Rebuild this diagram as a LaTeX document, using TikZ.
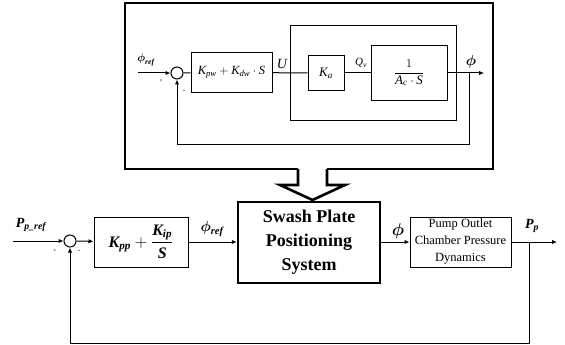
\documentclass[tikz,border=0pt]{standalone}
\usepackage{amsmath}
\usepackage{fontspec}
\setmainfont{Liberation Serif}
\usetikzlibrary{arrows.meta}
\newcommand{\ti}[1]{\text{\itshape #1}}
\newcommand{\tb}[1]{\text{\bfseries\itshape #1}}
\newcommand{\bphi}{\boldsymbol{\phi}}
\begin{document}
\begin{tikzpicture}[x=1pt,y=-1pt,
  blk/.style={draw, line width=1pt, inner sep=0pt, align=center},
  bigblk/.style={draw, line width=2.4pt, inner sep=0pt, align=center},
  sumj/.style={draw, circle, line width=1pt, minimum size=12pt, inner sep=0pt},
  sig/.style={line width=1pt},
  arr/.style={sig, -{Latex[length=5pt,width=4.5pt]}},
  thickln/.style={line width=2.6pt, line join=miter},
  lbl/.style={inner sep=0pt}
]
\useasboundingbox (0,0) rectangle (565,345);

% ---------- top (swash plate detail) ----------
\draw[thickln] (298,169) -- (125,169) -- (125,3) -- (493,3) -- (493,169) -- (327,169);
\node[blk, minimum width=166pt, minimum height=94pt] (ibox) at (373,73) {};

\coordinate (tin) at (138,73);
\node[sumj] (s1) at (177,73) {};
\node[blk, minimum width=81pt, minimum height=39pt, font=\fontsize{12.5}{14}\selectfont] (b1) at (231.5,72.5)
  {$\ti{K}_{\ti{pw}} + \ti{K}_{\ti{dw}}\cdot \ti{S}$};
\node[blk, minimum width=36pt, minimum height=34pt, font=\fontsize{13}{15}\selectfont] (ka) at (326,73) {$\ti{K}_{\ti{a}}$};
\node[blk, minimum width=76pt, minimum height=54pt, font=\fontsize{13}{15}\selectfont] (ac) at (409,73)
  {$\dfrac{1}{\ti{A}_{\ti{c}}\cdot \ti{S}}$};
\coordinate (tout) at (484,73);
\coordinate (tbr) at (469,73);
\coordinate (tfb) at (469,144);

\draw[arr] (tin) -- (s1);
\draw[sig] (s1) -- (b1);
\draw[sig] (b1) -- (ka);
\draw[sig] (ka) -- (ac);
\draw[arr] (ac) -- (tout);
\draw[arr] (tbr) -- (tfb) -| (s1);

\node[lbl, font=\fontsize{11}{13}\selectfont] at (146,60) {$\bphi_{\tb{ref}}$};
\node[lbl, font=\fontsize{6}{7}\selectfont] at (161,81) {+};
\node[lbl, font=\fontsize{7}{8}\selectfont] at (184,92) {-};
\node[lbl, font=\fontsize{14}{16}\selectfont] at (282,64) {\itshape U};
\node[lbl, font=\fontsize{11}{13}\selectfont] at (361,63) {$\ti{Q}_{\ti{v}}$};
\node[lbl, font=\fontsize{15}{17}\selectfont] at (471,62) {$\bphi$};

% ---------- big arrow ----------
\coordinate (al) at (298,169);
\coordinate (ar) at (327,169);
\draw[thickln] (al) -- (298,185) -- (280,185) -- (312.5,200) -- (345,185) -- (327,185) -- (ar);

% ---------- bottom loop ----------
\coordinate (bin) at (13,241);
\node[sumj] (s2) at (70,241) {};
\node[blk, minimum width=94pt, minimum height=50pt, font=\fontsize{16}{18}\selectfont\bfseries] (kp) at (141,242)
  {$\tb{K}_{\tb{pp}} + \dfrac{\tb{K}_{\tb{ip}}}{\tb{S}}$};
\node[bigblk, minimum width=142pt, minimum height=81pt, font=\fontsize{18}{24}\selectfont\bfseries] (sw) at (309,242.5)
  {Swash Plate\\Positioning\\System};
\node[blk, minimum width=101pt, minimum height=50pt, font=\fontsize{12.5}{17}\selectfont] (pump) at (460.5,242)
  {Pump Outlet\\Chamber Pressure\\Dynamics};
\coordinate (bout) at (557,242);
\coordinate (bbr) at (529,242);
\coordinate (bfb) at (529,343);

\draw[arr] (bin) -- (s2);
\draw[arr] (s2) -- (kp);
\draw[arr] (kp.east) -- (kp.east -| sw.west);
\draw[arr] (sw.east |- pump.west) -- (pump);
\draw[arr] (pump) -- (bout);
\draw[arr] (bbr) -- (bfb) -| (s2);

\node[lbl, font=\fontsize{14}{16}\selectfont] at (31,225) {$\tb{P}_{\tb{p\_ref}}$};
\node[lbl, font=\fontsize{6}{7}\selectfont] at (55,251) {+};
\node[lbl, font=\fontsize{7}{8}\selectfont] at (79,252) {-};
\node[lbl, font=\fontsize{15}{17}\selectfont] at (212,229) {$\bphi_{\tb{ref}}$};
\node[lbl, font=\fontsize{16}{18}\selectfont] at (398,231) {$\bphi$};
\node[lbl, font=\fontsize{14}{16}\selectfont] at (532,226) {$\tb{P}_{\tb{p}}$};
\end{tikzpicture}
\end{document}
